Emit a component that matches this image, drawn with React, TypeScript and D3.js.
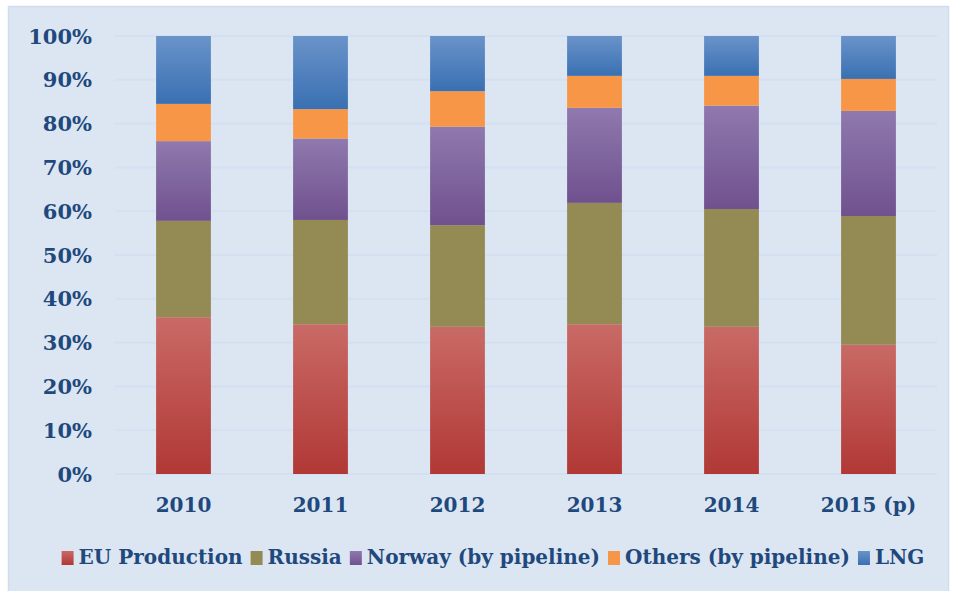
import React, { useEffect, useRef } from 'react';
import * as d3 from 'd3';

const years = ['2010', '2011', '2012', '2013', '2014', '2015 (p)'];
const seriesNames = ['EU Production', 'Russia', 'Norway (by pipeline)', 'Others (by pipeline)', 'LNG'];
const euProduction = [35.8, 34.2, 33.6, 34.2, 33.6, 29.5];
const russia = [22.0, 23.8, 23.2, 27.7, 26.9, 29.4];
const norway = [18.2, 18.6, 22.5, 21.7, 23.6, 24.0];
const others = [8.5, 6.7, 8.1, 7.3, 6.8, 7.3];
const lng = [15.5, 16.7, 12.6, 9.1, 9.1, 9.8];
const yTicks = [0, 10, 20, 30, 40, 50, 60, 70, 80, 90, 100];

const W = 955;
const H = 591;
const textColor = '#1f497d';
const font = '"DejaVu Serif", serif';

// top / bottom stops of each series' fill
const fills: Array<[string, string]> = [
  ['#c96a66', '#b13835'],
  ['#948a54', '#948a54'],
  ['#8f79ae', '#70518e'],
  ['#f79646', '#f79646'],
  ['#6a93c9', '#3970b2'],
];

export default function App() {
  const svgRef = useRef<SVGSVGElement>(null);

  useEffect(() => {
    if (!svgRef.current) return;
    const svg = d3.select(svgRef.current);
    svg.selectAll('*').remove();

    const margin = { top: 36, right: 18, bottom: 117, left: 115 };
    const innerW = W - margin.left - margin.right;
    const innerH = H - margin.top - margin.bottom;

    const defs = svg.append('defs');
    fills.forEach((f, i) => {
      const g = defs.append('linearGradient').attr('id', `grad${i}`)
        .attr('x1', 0).attr('y1', 0).attr('x2', 0).attr('y2', 1);
      g.append('stop').attr('offset', '0%').attr('stop-color', f[0]);
      g.append('stop').attr('offset', '100%').attr('stop-color', f[1]);
    });

    svg.append('rect').attr('width', W).attr('height', H).attr('fill', '#ffffff');
    svg.append('rect')
      .attr('x', 8.5).attr('y', 6.5).attr('width', 940).attr('height', 590)
      .attr('fill', '#dce6f2').attr('stroke', '#d0ddef').attr('stroke-width', 1.5);

    const x = d3.scaleBand().domain(years).range([0, innerW]).paddingInner(0.6).paddingOuter(0.3);
    const y = d3.scaleLinear().domain([0, 100]).range([innerH, 0]);

    const g = svg.append('g').attr('transform', `translate(${margin.left},${margin.top})`);

    g.selectAll('line.grid')
      .data(yTicks)
      .enter()
      .append('line')
      .attr('class', 'grid')
      .attr('x1', 0).attr('x2', innerW)
      .attr('y1', (d) => y(d)).attr('y2', (d) => y(d))
      .attr('stroke', '#d2e0f1').attr('stroke-width', 2);

    const table = years.map((yr, i) => ({
      year: yr,
      s0: euProduction[i], s1: russia[i], s2: norway[i], s3: others[i], s4: lng[i],
    }));
    const stack = d3.stack<any>().keys(['s0', 's1', 's2', 's3', 's4'])(table);

    stack.forEach((layer, si) => {
      g.append('g')
        .selectAll('rect')
        .data(layer)
        .enter()
        .append('rect')
        .attr('x', (d: any) => x(d.data.year) || 0)
        .attr('y', (d) => y(d[1]))
        .attr('width', x.bandwidth())
        .attr('height', (d) => y(d[0]) - y(d[1]))
        .attr('fill', `url(#grad${si})`);
    });

    // y axis labels
    g.selectAll('text.ytick')
      .data(yTicks)
      .enter()
      .append('text')
      .attr('x', -23)
      .attr('y', (d) => y(d))
      .attr('dy', '0.36em')
      .attr('text-anchor', 'end')
      .attr('font-family', font)
      .attr('font-weight', 'bold')
      .attr('font-size', 21)
      .attr('fill', textColor)
      .text((d) => `${d}%`);

    // x axis labels
    g.selectAll('text.xtick')
      .data(years)
      .enter()
      .append('text')
      .attr('x', (d) => (x(d) || 0) + x.bandwidth() / 2)
      .attr('y', innerH + 38)
      .attr('text-anchor', 'middle')
      .attr('font-family', font)
      .attr('font-weight', 'bold')
      .attr('font-size', 20)
      .attr('fill', textColor)
      .text((d) => d);

    // legend
    const legend = svg.append('g');
    let cx = 0;
    seriesNames.forEach((name, i) => {
      const item = legend.append('g').attr('transform', `translate(${cx},0)`);
      item.append('rect')
        .attr('x', 0).attr('y', -13).attr('width', 12).attr('height', 14)
        .attr('fill', `url(#grad${i})`);
      const t = item.append('text')
        .attr('x', 17).attr('y', 0)
        .attr('font-family', font)
        .attr('font-weight', 'bold')
        .attr('font-size', 20)
        .attr('fill', textColor)
        .text(name);
      const tw = (t.node() as SVGTextElement).getComputedTextLength();
      cx += 17 + tw + 8;
    });
    const total = cx - 8;
    legend.attr('transform', `translate(${(66 + 920) / 2 - total / 2},564)`);
  }, []);

  return (
    <div style={{ position: 'absolute', left: 0, top: 0 }}>
      <svg ref={svgRef} width={W} height={H} />
    </div>
  );
}
